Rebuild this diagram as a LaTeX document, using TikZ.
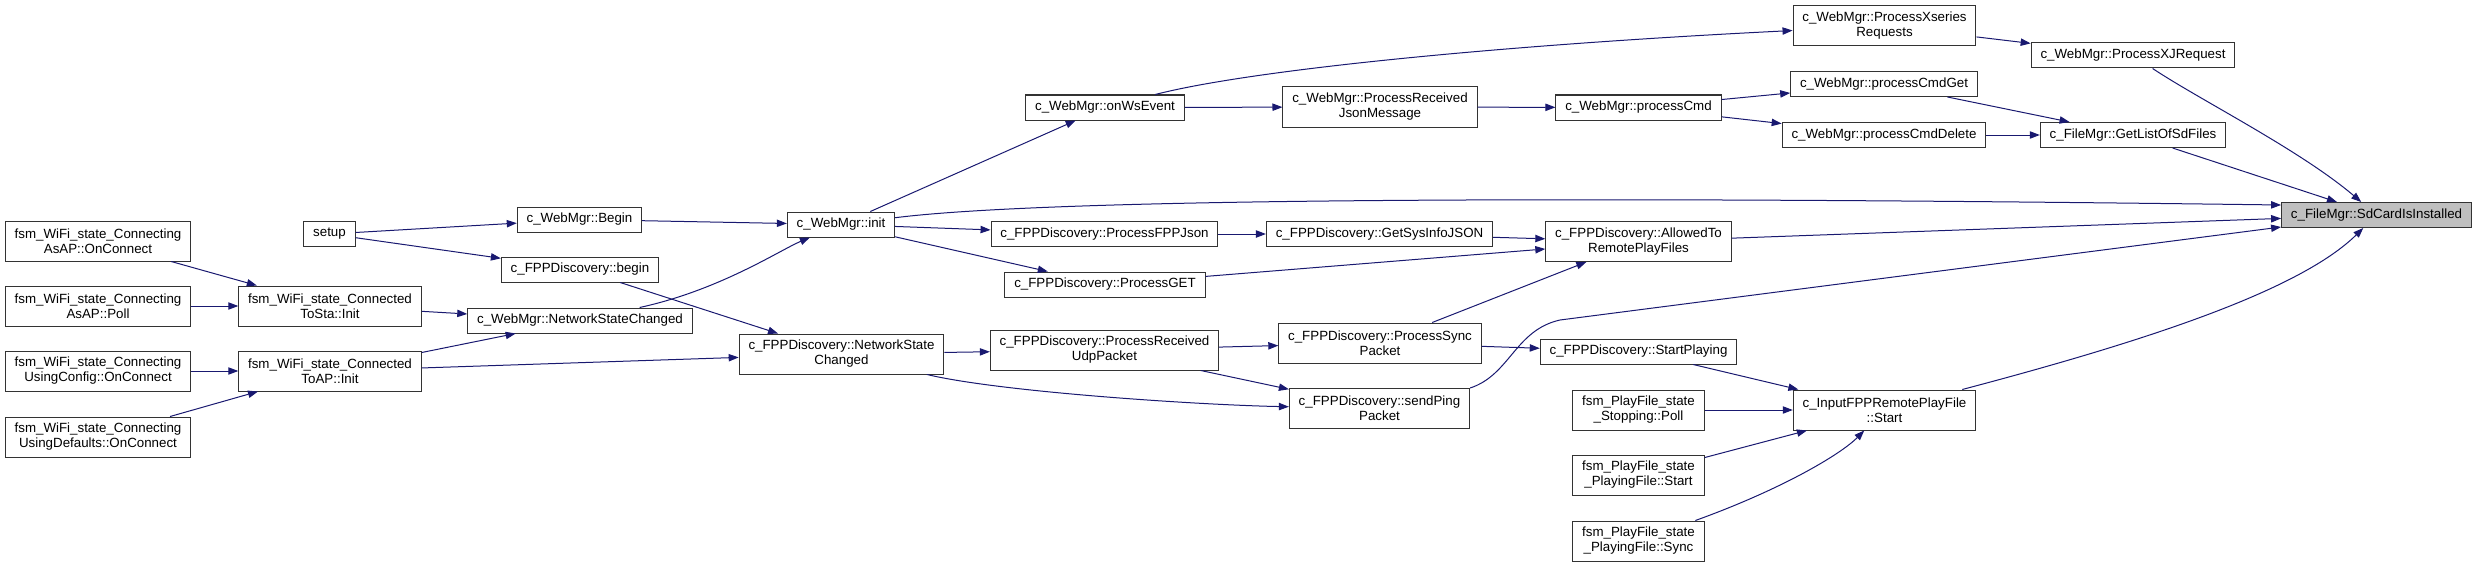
\documentclass[tikz,border=0pt]{standalone}
\usepackage{fontspec}
\setmainfont{Liberation Sans}
\usetikzlibrary{arrows.meta}
\definecolor{edgeblue}{RGB}{25,25,112}
\definecolor{hlgray}{RGB}{191,191,191}

\begin{document}
\begin{tikzpicture}[x=0.75pt,y=-0.75pt,
  fn/.style={draw=black!80,line width=0.75pt,fill=white,align=center,
    font=\fontsize{10}{11.25}\selectfont,inner xsep=7pt,inner ysep=2pt,minimum height=18.75pt},
  fn2/.style={fn,minimum height=30pt},
  call/.style={draw=edgeblue,line width=0.75pt,-{Triangle[length=7.5pt,width=5.5pt,fill=edgeblue]}}]

\useasboundingbox (0,0) rectangle (2476,567);

% wifi state machine
\node[fn2] (asapConn) at (98,241) {fsm\_WiFi\_state\_Connecting\\AsAP::OnConnect};
\node[fn2] (asapPoll) at (98,306) {fsm\_WiFi\_state\_Connecting\\AsAP::Poll};
\node[fn2] (cfgConn) at (98,371) {fsm\_WiFi\_state\_Connecting\\UsingConfig::OnConnect};
\node[fn2] (defConn) at (98,437) {fsm\_WiFi\_state\_Connecting\\UsingDefaults::OnConnect};
\node[fn] (setup) at (329.5,234) {setup};
\node[fn2] (staInit) at (330,306) {fsm\_WiFi\_state\_Connected\\ToSta::Init};
\node[fn2] (apInit) at (330,371) {fsm\_WiFi\_state\_Connected\\ToAP::Init};

% web manager and discovery
\node[fn] (wmBegin) at (579.5,219.5) {c\_WebMgr::Begin};
\node[fn] (fdBegin) at (580,269.5) {c\_FPPDiscovery::begin};
\node[fn] (wmNet) at (580,320.5) {c\_WebMgr::NetworkStateChanged};
\node[fn] (wmInit) at (841,224.5) {c\_WebMgr::init};
\node[fn2] (fdNet) at (841.5,354) {c\_FPPDiscovery::NetworkState\\Changed};
\node[fn] (wmWs) at (1105,107.5) {c\_WebMgr::onWsEvent};
\node[fn] (fdJson) at (1104.5,234) {c\_FPPDiscovery::ProcessFPPJson};
\node[fn] (fdGet) at (1105,284.5) {c\_FPPDiscovery::ProcessGET};
\node[fn2] (fdUdp) at (1104.5,350) {c\_FPPDiscovery::ProcessReceived\\UdpPacket};
\node[fn2] (wmRxJson) at (1380,107) {c\_WebMgr::ProcessReceived\\JsonMessage};
\node[fn] (fdSysInfo) at (1379.5,234) {c\_FPPDiscovery::GetSysInfoJSON};
\node[fn2] (fdSync) at (1380,343) {c\_FPPDiscovery::ProcessSync\\Packet};
\node[fn2] (fdPing) at (1379.5,408.5) {c\_FPPDiscovery::sendPing\\Packet};
\node[fn] (wmCmd) at (1638.5,107.5) {c\_WebMgr::processCmd};
\node[fn2] (fdAllowed) at (1638.5,241.5) {c\_FPPDiscovery::AllowedTo\\RemotePlayFiles};
\node[fn] (fdStart) at (1638.5,351.5) {c\_FPPDiscovery::StartPlaying};

% play file state machine
\node[fn2] (pfStop) at (1638.5,410) {fsm\_PlayFile\_state\\\_Stopping::Poll};
\node[fn2] (pfStart) at (1638.5,475) {fsm\_PlayFile\_state\\\_PlayingFile::Start};
\node[fn2] (pfSync) at (1638.5,541) {fsm\_PlayFile\_state\\\_PlayingFile::Sync};
\node[fn2] (rpStart) at (1884.5,410) {c\_InputFPPRemotePlayFile\\::Start};

% web commands and file manager
\node[fn2] (wmXseries) at (1884.5,26) {c\_WebMgr::ProcessXseries\\Requests};
\node[fn] (wmCmdGet) at (1884,84) {c\_WebMgr::processCmdGet};
\node[fn] (wmCmdDel) at (1884,135) {c\_WebMgr::processCmdDelete};
\node[fn] (wmXJ) at (2133,55.5) {c\_WebMgr::ProcessXJRequest};
\node[fn] (fmList) at (2133,135) {c\_FileMgr::GetListOfSdFiles};
\node[fn,fill=hlgray] (fmSd) at (2376.5,215) {c\_FileMgr::SdCardIsInstalled};

% calls
\draw[call] (asapConn) -- (staInit);
\draw[call] (asapPoll) -- (staInit);
\draw[call] (cfgConn) -- (apInit);
\draw[call] (defConn) -- (apInit);
\draw[call] (setup) -- (wmBegin);
\draw[call] (setup) -- (fdBegin);
\draw[call] (staInit) -- (wmNet);
\draw[call] (apInit) -- (wmNet);
\draw[call] (apInit) -- (fdNet);
\draw[call] (wmBegin) -- (wmInit);
\draw[call] (wmNet) .. controls (720,290) and (780,250) .. (wmInit);
\draw[call] (fdBegin) -- (fdNet);
\draw[call] (wmInit) -- (wmWs);
\draw[call] (wmInit) -- (fdJson);
\draw[call] (wmInit) -- (fdGet);
\draw[call] (wmInit) .. controls (1100,192) and (1900,200) .. ([yshift=7.5pt]fmSd.west);
\draw[call] (wmWs) .. controls (1250,70) and (1500,45) .. (wmXseries);
\draw[call] (wmWs) -- (wmRxJson);
\draw[call] (wmRxJson) -- (wmCmd);
\draw[call] (fdJson) -- (fdSysInfo);
\draw[call] (fdSysInfo) -- (fdAllowed);
\draw[call] (fdGet) -- (fdAllowed);
\draw[call] (fdNet) -- (fdUdp);
\draw[call] (fdNet) .. controls (1000,392) and (1200,405) .. (fdPing);
\draw[call] (fdUdp) -- (fdSync);
\draw[call] (fdUdp) -- (fdPing);
\draw[call] (fdSync) -- (fdAllowed);
\draw[call] (fdSync) -- (fdStart);
\draw[call] (fdPing.north east) .. controls (1510,375) and (1515,330) .. (1560,320) -- ([yshift=-9pt]fmSd.west);
\draw[call] (wmCmd) -- (wmCmdGet);
\draw[call] (wmCmd) -- (wmCmdDel);
\draw[call] (wmCmdGet) -- (fmList);
\draw[call] (wmCmdDel) -- (fmList);
\draw[call] (wmXseries) -- (wmXJ);
\draw[call] (wmXJ) .. controls (2200,100) and (2300,150) .. (fmSd);
\draw[call] (fmList) -- (fmSd);
\draw[call] (fdAllowed) -- (fmSd);
\draw[call] (fdStart) -- (rpStart);
\draw[call] (pfStop) -- (rpStart);
\draw[call] (pfStart) -- (rpStart);
\draw[call] (pfSync) .. controls (1780,490) and (1840,455) .. (rpStart);
\draw[call] (rpStart) .. controls (2150,340) and (2300,290) .. (fmSd);

\end{tikzpicture}
\end{document}
